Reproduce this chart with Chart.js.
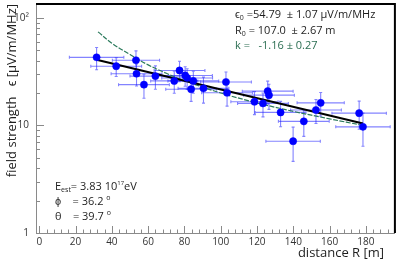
<!DOCTYPE html>
<html lang="en">
<head>
<meta charset="UTF-8">
<title>Field strength vs distance</title>
<style>
  body { margin: 0; background: #fff; }
  #wrap { width: 399px; height: 264px; }
</style>
</head>
<body>
<div id="wrap"><canvas id="chart" width="399" height="264"></canvas></div>
<script src="https://cdn.jsdelivr.net/npm/chart.js"></script>
<script>
// measured antenna points: distance R [m] and field strength [uV/m/MHz]
const distance = [31.6, 42.4, 53.3, 53.6, 57.7, 64.0, 74.4, 77.3, 80.4, 81.5, 83.7, 84.9, 90.5,
                  102.9, 103.5, 125.9, 126.6, 118.6, 123.3, 133.0, 145.8, 139.9, 152.5, 155.1, 176.3, 178.4];
const distErr  = [15, 14, 13, 14, 14, 14, 13, 14, 15, 14, 14, 14, 14,
                  14, 14, 14, 14, 13, 14, 14, 14, 15, 14, 13, 15, 15];
const field    = [42.9, 35.5, 40.3, 30.2, 23.9, 28.7, 25.9, 32.4, 29.1, 27.6, 21.7, 25.9, 22.1,
                  25.3, 20.1, 20.8, 19.1, 16.6, 16.0, 13.2, 10.9, 7.13, 13.9, 16.2, 13.0, 9.69];
const fieldErr = [10, 7, 9, 7, 6, 7, 6, 7, 6, 6, 5, 6, 6,
                  6, 5, 5, 5, 4, 4, 3.5, 3, 2.5, 3.5, 4, 3.8, 3.3];

// exponential fit (straight on the log axis), its two ends
const fitX = [31.6, 178.4];
const fitY = [40.8, 10.4];

// power law curve, k = -1.16
const powX = [32.4, 40, 50, 60, 70, 80, 100, 120, 140, 160, 178.4];
const powY = [74, 58, 45.5, 36.5, 30.5, 26, 20, 16.2, 13.5, 11.5, 10];

const xTicks = [0, 20, 40, 60, 80, 100, 120, 140, 160, 180];
const yMajor = [1, 10, 100];
const yLabels = ['1', '10', '10²'];

const FONT = '"Open Sans", "Liberation Sans", sans-serif';

function toXY(xs, ys) {
    return xs.map((v, i) => ({ x: v, y: ys[i] }));
}

// draws a row of text pieces one after another (for sub/superscripts)
function drawRuns(ctx, x, y, runs, color) {
    ctx.textBaseline = 'middle';
    ctx.textAlign = 'left';
    runs.forEach(r => {
        ctx.font = (r.size || 11) + 'px ' + FONT;
        ctx.fillStyle = r.color || color;
        ctx.fillText(r.t, x + (r.dx || 0), y + (r.dy || 0));
        x += (r.dx || 0) + ctx.measureText(r.t).width;
    });
}

const decor = {
    id: 'decor',
    beforeDatasetsDraw(chart) {
        const { ctx, scales: { x, y } } = chart;
        ctx.save();
        ctx.strokeStyle = 'rgba(30,30,255,0.55)';
        ctx.lineWidth = 1.1;
        distance.forEach((d, i) => {
            const px = x.getPixelForValue(d);
            const py = y.getPixelForValue(field[i]);
            const x0 = x.getPixelForValue(d - distErr[i]);
            const x1 = x.getPixelForValue(d + distErr[i]);
            const y0 = y.getPixelForValue(field[i] - fieldErr[i]);
            const y1 = y.getPixelForValue(field[i] + fieldErr[i]);
            ctx.beginPath();
            ctx.moveTo(x0, py); ctx.lineTo(x1, py);
            ctx.moveTo(x0, py - 1.5); ctx.lineTo(x0, py + 1.5);
            ctx.moveTo(x1, py - 1.5); ctx.lineTo(x1, py + 1.5);
            ctx.moveTo(px, y0); ctx.lineTo(px, y1);
            ctx.moveTo(px - 1.5, y0); ctx.lineTo(px + 1.5, y0);
            ctx.moveTo(px - 1.5, y1); ctx.lineTo(px + 1.5, y1);
            ctx.stroke();
        });
        ctx.restore();
    },
    afterDraw(chart) {
        const { ctx, chartArea: a, scales: { x, y } } = chart;
        ctx.save();

        // inward ticks
        ctx.strokeStyle = '#8a8a8a';
        ctx.lineWidth = 1;
        ctx.beginPath();
        for (let v = 0; v <= 196; v += 4) {
            const px = Math.round(x.getPixelForValue(v)) + 0.5;
            const len = v % 20 === 0 ? 7 : 3.5;
            ctx.moveTo(px, a.bottom);
            ctx.lineTo(px, a.bottom - len);
        }
        [1, 10, 100].forEach(dec => {
            for (let m = 1; m <= 9; m++) {
                const v = dec * m;
                if (v > y.max) break;
                const py = Math.round(y.getPixelForValue(v)) + 0.5;
                const len = m === 1 ? 8 : 4;
                ctx.moveTo(a.left, py);
                ctx.lineTo(a.left + len, py);
            }
        });
        ctx.stroke();

        // frame top and right
        ctx.strokeStyle = '#000';
        ctx.lineWidth = 2;
        ctx.beginPath();
        ctx.moveTo(a.left, a.top);
        ctx.lineTo(a.right, a.top);
        ctx.lineTo(a.right, a.bottom);
        ctx.stroke();

        // fit results
        const dark = '#1e1e1e';
        drawRuns(ctx, 235, 15, [
            { t: 'ϵ' }, { t: '0', size: 7, dy: 3 }, { t: ' =54.79  ± 1.07 μV/m/MHz' }
        ], dark);
        drawRuns(ctx, 235, 31, [
            { t: 'R' }, { t: '0', size: 7, dy: 3 }, { t: ' = 107.0  ± 2.67 m' }
        ], dark);
        drawRuns(ctx, 235, 46, [{ t: 'k =   -1.16 ± 0.27' }], '#2b6e52');

        // shower parameters
        drawRuns(ctx, 55, 187, [
            { t: 'E' }, { t: 'est', size: 7, dy: 3 }, { t: '= 3.83 10' },
            { t: '17', size: 6, dy: -4 }, { t: 'eV' }
        ], dark);
        drawRuns(ctx, 55, 202, [{ t: 'ϕ    = 36.2 ' }, { t: 'o', size: 7, dy: -4 }], dark);
        drawRuns(ctx, 55, 217, [{ t: 'θ    = 39.7 ' }, { t: 'o', size: 7, dy: -4 }], dark);

        // axis titles
        ctx.fillStyle = dark;
        ctx.font = '13px ' + FONT;
        ctx.textAlign = 'right';
        ctx.textBaseline = 'middle';
        ctx.fillText('distance R [m]', 384, 253);
        ctx.save();
        ctx.translate(12, 4);
        ctx.rotate(-Math.PI / 2);
        ctx.fillText('field strength   ϵ [μV/m/MHz]', 0, 0);
        ctx.restore();

        ctx.restore();
    }
};

new Chart(document.getElementById('chart'), {
    type: 'scatter',
    data: {
        datasets: [
            {
                data: toXY(distance, field),
                backgroundColor: '#0000ff',
                borderColor: '#0000ff',
                borderWidth: 0.5,
                pointRadius: 3.6,
                pointHoverRadius: 3.6
            },
            {
                type: 'line',
                data: toXY(fitX, fitY),
                borderColor: '#000',
                borderWidth: 2,
                pointRadius: 0,
                fill: false
            },
            {
                type: 'line',
                data: toXY(powX, powY),
                borderColor: '#2b7a5c',
                borderWidth: 1.2,
                borderDash: [5, 1.5],
                pointRadius: 0,
                tension: 0.4,
                fill: false
            }
        ]
    },
    options: {
        responsive: false,
        animation: false,
        layout: { padding: { top: 1, right: 1, left: 0, bottom: 0 } },
        plugins: { legend: { display: false }, tooltip: { enabled: false } },
        scales: {
            x: {
                type: 'linear',
                min: -1.8,
                max: 196,
                afterBuildTicks: s => { s.ticks = xTicks.map(v => ({ value: v })); },
                afterFit: s => { s.height = 31; s.paddingLeft = 0; s.paddingRight = 0; },
                grid: { display: false, drawTicks: false },
                border: { color: '#8a8a8a', width: 1 },
                ticks: { padding: 3, color: '#333', font: { family: FONT, size: 10 }, maxRotation: 0 }
            },
            y: {
                type: 'logarithmic',
                min: 1,
                max: 134,
                afterBuildTicks: s => { s.ticks = yMajor.map(v => ({ value: v })); },
                afterFit: s => { s.width = 36; s.paddingTop = 0; s.paddingBottom = 0; },
                grid: { display: false, drawTicks: false },
                border: { color: '#8a8a8a', width: 1 },
                ticks: {
                    padding: 7,
                    color: '#333',
                    font: { family: FONT, size: 10 },
                    callback: v => yLabels[yMajor.indexOf(v)]
                }
            }
        }
    },
    plugins: [decor]
});
</script>
</body>
</html>
